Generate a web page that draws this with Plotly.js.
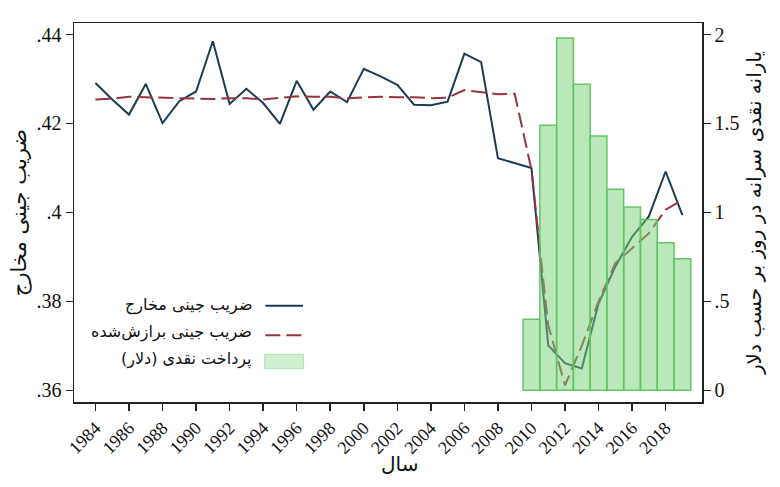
<!DOCTYPE html>
<html>
<head>
<meta charset="utf-8">
<script src="https://cdn.plot.ly/plotly-3.0.1.min.js"></script>
<style>
html,body{margin:0;padding:0;background:#fff;}
#chart{width:780px;height:487px;}
</style>
</head>
<body>
<div id="chart"></div>
<script>
const years = [1984,1985,1986,1987,1988,1989,1990,1991,1992,1993,1994,1995,1996,1997,1998,1999,2000,2001,2002,2003,2004,2005,2006,2007,2008,2009,2010,2011,2012,2013,2014,2015,2016,2017,2018,2019];
const giniActual = [.4291,.4254,.4220,.4289,.4201,.4250,.4272,.4385,.4244,.4278,.4246,.4199,.4296,.4231,.4272,.4248,.4323,.4306,.4287,.4242,.4241,.4249,.4357,.4338,.4122,null,.4100,.3701,.3661,.3649,.3795,.3878,.3945,.3991,.4092,.3994];
const giniFitted = [.4254,.4256,.4260,.4259,.4257,.4256,.4255,.4255,.4257,.4257,.4254,.4257,.4261,.4260,.4260,.4257,.4259,.4260,.4259,.4259,.4257,.4258,.4275,.4270,.4266,.4267,.4096,.3746,.3611,.3700,.3800,.3886,.3919,.3953,.4006,.4028];
const barYears = [2010,2011,2012,2013,2014,2015,2016,2017,2018,2019];
const cashTransfer = [0.40,1.49,1.98,1.72,1.43,1.13,1.03,0.96,0.83,0.74];
const xTickVals = [1984,1986,1988,1990,1992,1994,1996,1998,2000,2002,2004,2006,2008,2010,2012,2014,2016,2018];
const leftTickVals = [.36,.38,.40,.42,.44];
const leftTickText = ['.36','.38','.4','.42','.44'];
const rightTickVals = [0,0.5,1,1.5,2];
const rightTickText = ['0','.5','1','1.5','2'];
const labelActual = 'ضریب جینی مخارج';
const labelFitted = 'ضریب جینی برازش‌شده';
const labelCash = 'پرداخت نقدی (دلار)';
const titleLeft = 'ضریب جینی مخارج';
const titleRight = 'یارانه نقدی سرانه در روز بر حسب دلار';
const titleX = 'سال';

const navy = '#1d3a56';
const maroon = '#973443';
const serif = 'Liberation Serif, serif';
const fa = 'DejaVu Sans, sans-serif';

const traces = [
  {x: years, y: giniActual, type: 'scatter', mode: 'lines', connectgaps: true,
   line: {color: navy, width: 2}, name: labelActual, yaxis: 'y', showlegend: false},
  {x: years, y: giniFitted, type: 'scatter', mode: 'lines',
   line: {color: maroon, width: 2, dash: '15px,6px'}, name: labelFitted, yaxis: 'y', showlegend: false},
  {x: barYears, y: cashTransfer, type: 'bar', width: 1, yaxis: 'y2', name: labelCash, showlegend: false,
   marker: {color: 'rgba(120,210,120,0.5)', line: {color: 'rgba(95,195,95,0.95)', width: 1.5}}}
];

const layout = {
  width: 780, height: 487,
  margin: {l: 73.5, r: 78, t: 23.3, b: 85.3},
  paper_bgcolor: '#fff', plot_bgcolor: '#fff',
  showlegend: false,
  bargap: 0,
  xaxis: {
    range: [1982.72, 2020.17], tickvals: xTickVals, tickangle: -45,
    showline: true, mirror: true, linecolor: '#222', linewidth: 1.5,
    ticks: 'outside', ticklen: 7, tickcolor: '#222', tickwidth: 1.5,
    showgrid: false, zeroline: false,
    tickfont: {family: serif, size: 18, color: '#111'}
  },
  yaxis: {
    range: [.35736, .4426], tickvals: leftTickVals, ticktext: leftTickText,
    showline: true, linecolor: '#222', linewidth: 1.5,
    ticks: 'outside', ticklen: 7, tickcolor: '#222', tickwidth: 1.5,
    showgrid: false, zeroline: false,
    tickfont: {family: serif, size: 20, color: '#111'},
    title: {text: titleLeft, font: {family: fa, size: 21, color: '#111'}, standoff: 4}
  },
  yaxis2: {
    range: [-0.0659, 2.065], tickvals: rightTickVals, ticktext: rightTickText,
    overlaying: 'y', side: 'right',
    showline: true, linecolor: '#222', linewidth: 1.5,
    ticks: 'outside', ticklen: 7, tickcolor: '#222', tickwidth: 1.5,
    showgrid: false, zeroline: false,
    tickfont: {family: serif, size: 20, color: '#111'},
    title: {text: titleRight, font: {family: fa, size: 20, color: '#111'}, standoff: 8}
  },
  shapes: [
    {type: 'line', xref: 'paper', yref: 'paper', x0: 0.3047, x1: 0.3647, y0: 0.2537, y1: 0.2537,
     line: {color: navy, width: 2}},
    {type: 'line', xref: 'paper', yref: 'paper', x0: 0.3047, x1: 0.3647, y0: 0.1763, y1: 0.1763,
     line: {color: maroon, width: 2, dash: '15px,6px'}},
    {type: 'rect', xref: 'paper', yref: 'paper', x0: 0.3036, x1: 0.3656, y0: 0.0883, y1: 0.126,
     fillcolor: 'rgba(120,210,120,0.35)', line: {color: 'rgba(120,210,120,0.5)', width: 1}}
  ],
  annotations: [
    {xref: 'paper', yref: 'paper', x: 0.518, y: -0.163, xanchor: 'center', yanchor: 'middle', showarrow: false,
     text: titleX, font: {family: fa, size: 20, color: '#111'}},
    {xref: 'paper', yref: 'paper', x: 0.286, y: 0.2555, xanchor: 'right', yanchor: 'middle', showarrow: false,
     text: labelActual, font: {family: fa, size: 16, color: '#111'}},
    {xref: 'paper', yref: 'paper', x: 0.286, y: 0.185, xanchor: 'right', yanchor: 'middle', showarrow: false,
     text: labelFitted, font: {family: fa, size: 16, color: '#111'}},
    {xref: 'paper', yref: 'paper', x: 0.286, y: 0.1147, xanchor: 'right', yanchor: 'middle', showarrow: false,
     text: labelCash, font: {family: fa, size: 16, color: '#111'}}
  ]
};

Plotly.newPlot('chart', traces, layout, {displayModeBar: false, staticPlot: true});
</script>
</body>
</html>
